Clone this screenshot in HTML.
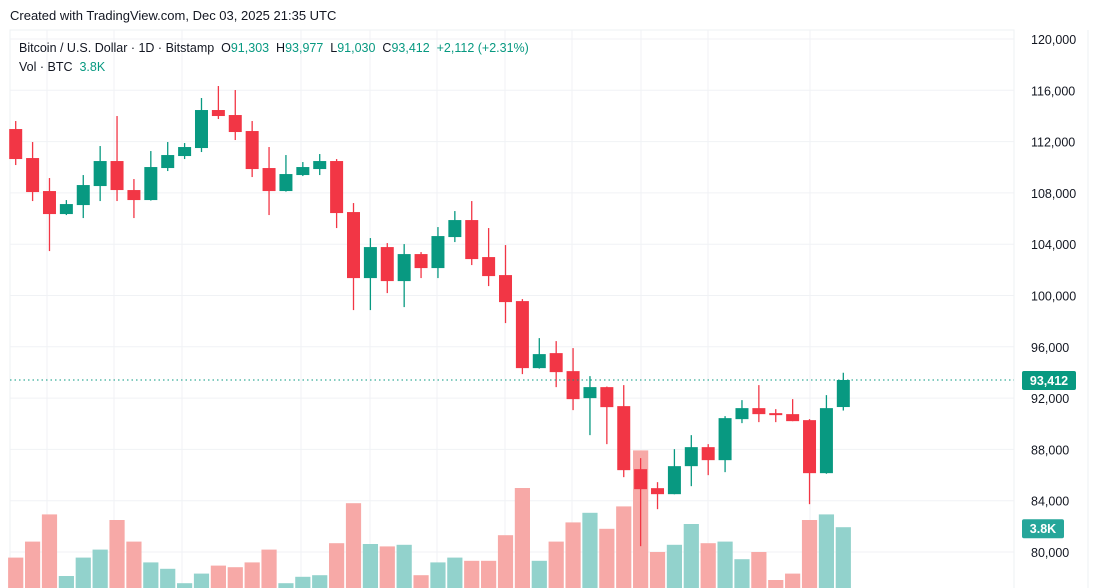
<!DOCTYPE html>
<html><head><meta charset="utf-8">
<style>
body{margin:0;background:#fff;width:1099px;height:588px;overflow:hidden;font-family:"Liberation Sans",sans-serif;}
#hdr{position:absolute;left:10px;top:8px;font-size:13px;color:#131722;}
#leg{position:absolute;left:19px;top:39px;font-size:12.5px;color:#131722;line-height:19px;}
.g{color:#089981;}
svg{position:absolute;left:0;top:0;}
</style></head><body>
<svg id="chart" width="1099" height="588"></svg>
<div id="hdr">Created with TradingView.com, Dec 03, 2025 21:35 UTC</div>
<div id="leg">
<div>Bitcoin / U.S. Dollar · 1D · Bitstamp&nbsp; O<span class="g">91,303</span>&nbsp; H<span class="g">93,977</span>&nbsp; L<span class="g">91,030</span>&nbsp; C<span class="g">93,412</span>&nbsp; <span class="g">+2,112 (+2.31%)</span></div>
<div>Vol · BTC&nbsp; <span class="g">3.8K</span></div>
</div>
<script>
const opens=[112980,110718,108144,106350,107052,108534,110484,108222,107442,109938,110874,111498,114462,114072,112824,109938,108144,109392,109860,110484,106506,101358,103776,101124,103230,102138,104556,105882,102996,101592,99564,94338,95508,94104,91998,92856,91374,86460,84978,84510,86694,88176,87162,90360,91218,90828,90750,90282,86148,91303];
const highs=[113604,111966,109158,107442,109392,111654,113994,109080,111264,111966,111888,115398,116334,116022,113604,111576,110952,110406,111030,110640,107208,104478,104088,104010,103386,105336,106584,107364,105258,103932,99720,96678,96444,95898,93714,92900,93012,87318,85446,88020,89112,88410,90594,91842,93012,91140,91920,90360,92232,93977];
const lows=[110172,107364,103464,106272,106038,107364,107364,106038,107400,109704,110640,111186,113760,112122,109236,106272,108100,109314,109392,105258,98862,98862,100188,99096,101358,101358,104166,102372,100734,97848,93870,94300,92856,91062,89112,88410,85836,80454,83340,84500,85134,85992,86226,90048,90126,90126,90200,83730,86100,91030];
const closes=[110640,108066,106350,107130,108612,110484,108222,107442,110016,110952,111576,114462,113994,112746,109860,108144,109470,110016,110484,106428,101358,103776,101124,103230,102138,104634,105882,102840,101514,99486,94338,95430,94026,91920,92856,91296,86382,84900,84510,86694,88176,87162,90438,91218,90750,90672,90204,86148,91218,93412];
const volumes=[1.9,2.9,4.6,0.75,1.9,2.4,4.25,2.9,1.6,1.2,0.3,0.9,1.4,1.3,1.6,2.4,0.3,0.7,0.8,2.8,5.3,2.75,2.6,2.7,0.8,1.6,1.9,1.7,1.7,3.3,6.25,1.7,2.9,4.1,4.7,3.7,5.1,8.6,2.25,2.7,4.0,2.8,2.9,1.8,2.25,0.5,0.9,4.25,4.6,3.8];
const priceTicks=[120000,116000,112000,108000,104000,100000,96000,92000,88000,84000,80000];
const lastPrice=93412;

const NS='http://www.w3.org/2000/svg';
const svg=document.getElementById('chart');
function el(t,a){const e=document.createElementNS(NS,t);for(const k in a)e.setAttribute(k,a[k]);svg.appendChild(e);return e;}
const yP=p=>39+(120000-p)/4000*51.3;
const xI=i=>15.7+i*16.89;
const yV=v=>588-v*16;
const GREEN='#089981',RED='#F23645';

// pane borders
let b=el('rect',{x:10,y:30,width:1004,height:570,fill:'none',stroke:'#eef0f3'});

b=el('line',{x1:1088,y1:30,x2:1088,y2:588,stroke:'#eef0f3'});

// vertical grid
[47,114,182,301,370,437,505,572,641,708,810].forEach(x=>{
 const l=el('line',{x1:x,y1:30,x2:x,y2:588,stroke:'#f0f2f5'});
 
 
});
// horizontal grid + ticks
priceTicks.forEach(p=>{
 const y=yP(p);
 const l=el('line',{x1:10,y1:y,x2:1014,y2:y,stroke:'#f0f2f5'});
 
 
 const t=el('text',{x:1031,y:y+5,'font-size':'12.5','fill':'#131722','font-family':'Liberation Sans, sans-serif'});
 t.textContent=p.toLocaleString('en-US');
 
 
});
// volumes
volumes.forEach((v,i)=>{
 const up=closes[i]>=opens[i];
 const r=el('rect',{x:xI(i)-7.6,y:yV(v),width:15.2,height:588-yV(v),fill:up?'#92d2cc':'#f7a9a7'});
 
 
});
// candles
opens.forEach((o,i)=>{
 const c=closes[i],up=c>=o,col=up?GREEN:RED,x=xI(i);
 const w=el('line',{x1:x,y1:yP(highs[i]),x2:x,y2:yP(lows[i]),stroke:col,'stroke-width':1.3});
 
 
 const top=yP(Math.max(o,c)),bot=yP(Math.min(o,c));
 const r=el('rect',{x:x-6.5,y:top,width:13,height:Math.max(1.5,bot-top),fill:col});
 
 
});
// last price line
const ly=yP(lastPrice);
let ll=el('line',{x1:10,y1:ly,x2:1014,y2:ly,stroke:GREEN,'stroke-dasharray':'1.5,3','stroke-width':1});

let lb=el('rect',{x:1022,y:ly-9,width:54,height:19,rx:2,fill:GREEN});

let lt=el('text',{x:1049,y:ly+5,'font-size':'12.5','fill':'#fff','text-anchor':'middle','font-weight':'bold','font-family':'Liberation Sans, sans-serif'});
lt.textContent=lastPrice.toLocaleString('en-US');

const vy=yV(volumes[volumes.length-1]);
let vb=el('rect',{x:1022,y:vy-8,width:42,height:19,rx:2,fill:'#26a69a'});

let vt=el('text',{x:1043,y:vy+6,'font-size':'12.5','fill':'#fff','text-anchor':'middle','font-weight':'bold','font-family':'Liberation Sans, sans-serif'});
vt.textContent=volumes[volumes.length-1]+'K';

</script>
</body></html>
